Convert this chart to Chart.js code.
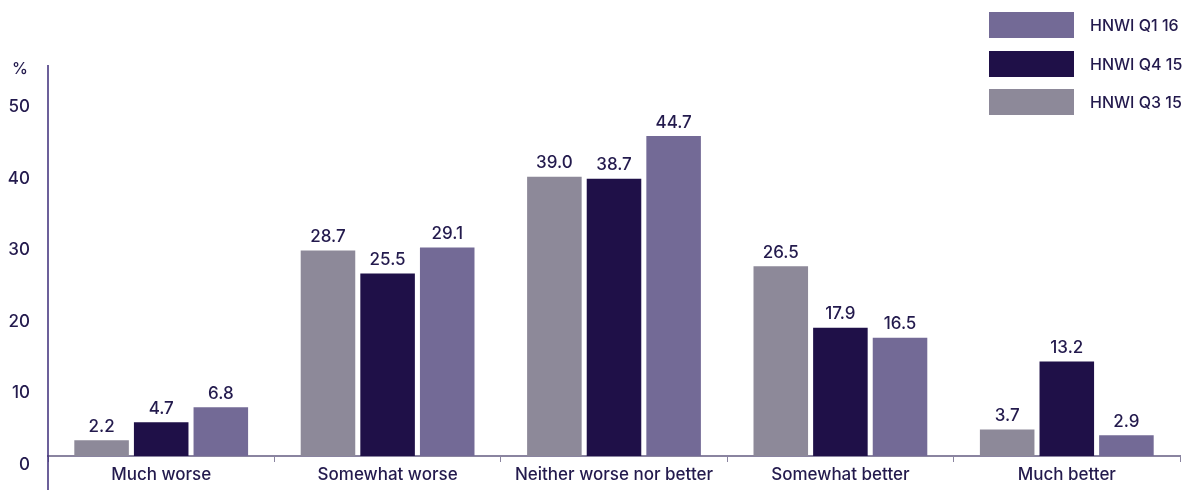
<!DOCTYPE html>
<html>
<head>
<meta charset="utf-8">
<script src="https://cdn.jsdelivr.net/npm/chart.js@4"></script>
<style>
  html, body { margin: 0; padding: 0; background: #fff; }
  #wrap { position: relative; width: 1192px; height: 490px; }
  #legend { position: absolute; top: 12px; left: 989px; font-family: Inter, sans-serif; font-size: 16px; font-weight: 500; color: #231a4d; }
  #legend div { display: flex; align-items: center; height: 26px; margin-bottom: 12.5px; }
  #legend span.box { display: inline-block; width: 85px; height: 26px; margin-right: 16px; }
</style>
</head>
<body>
<div id="wrap">
  <canvas id="grafica" width="1192" height="490"></canvas>
  <div id="legend"></div>
</div>
<script>
var categorias = ['Much worse', 'Somewhat worse', 'Neither worse nor better', 'Somewhat better', 'Much better'];
var q3_15 = [2.2, 28.7, 39.0, 26.5, 3.7];
var q4_15 = [4.7, 25.5, 38.7, 17.9, 13.2];
var q1_16 = [6.8, 29.1, 44.7, 16.5, 2.9];
var ticksY = [0, 10, 20, 30, 40, 50];

var textColor = '#231a4d';
var fuente = { family: 'Inter', size: 17, weight: 500 };

// value labels above each bar + the "%" unit and the long y axis line
var extras = {
    id: 'extras',
    afterDatasetsDraw: function(chart){
        var ctx = chart.ctx;
        ctx.save();
        ctx.fillStyle = textColor;
        ctx.font = '500 17px Inter';
        ctx.textAlign = 'center';
        ctx.textBaseline = 'bottom';
        chart.data.datasets.forEach(function(ds, i){
            chart.getDatasetMeta(i).data.forEach(function(bar, j){
                ctx.fillText(ds.data[j].toFixed(1), bar.x, bar.y - 5);
            });
        });
        var area = chart.chartArea;
        ctx.textAlign = 'center';
        ctx.textBaseline = 'middle';
        ctx.font = '500 16px Inter';
        ctx.fillText('%', area.left - 28, area.top + 4);
        ctx.strokeStyle = '#3b2b78';
        ctx.lineWidth = 1.5;
        ctx.beginPath();
        ctx.moveTo(area.left, area.top);
        ctx.lineTo(area.left, chart.height);
        ctx.stroke();
        ctx.restore();
    }
};

var grafica = document.getElementById('grafica');
var chart = new Chart(grafica, {
    type: 'bar',
    data: {
        labels: categorias,
        datasets: [
            { label: 'HNWI Q3 15', data: q3_15, backgroundColor: '#8d8999' },
            { label: 'HNWI Q4 15', data: q4_15, backgroundColor: '#1f1048' },
            { label: 'HNWI Q1 16', data: q1_16, backgroundColor: '#736a96' }
        ]
    },
    options: {
        responsive: false,
        animation: false,
        categoryPercentage: 0.79,
        barPercentage: 0.915,
        layout: { padding: { top: 65, right: 12, left: 0, bottom: 0 } },
        plugins: { legend: { display: false }, tooltip: { enabled: false } },
        scales: {
            x: {
                grid: { display: true, offset: true, drawOnChartArea: false, tickLength: 6, color: '#8a84a0', lineWidth: 1 },
                border: { display: true, color: '#8a84a0', width: 2 },
                ticks: { color: textColor, font: fuente, padding: 3 },
                afterFit: function(scale){ scale.height = 34; }
            },
            y: {
                min: 0,
                max: 54.6,
                grid: { display: false },
                border: { display: false },
                afterBuildTicks: function(scale){
                    scale.ticks = ticksY.map(function(v){ return { value: v }; });
                },
                ticks: { color: textColor, font: fuente, padding: 10, labelOffset: 9 },
                afterFit: function(scale){ scale.width = 48; }
            }
        }
    },
    plugins: [extras]
});

// legend listed newest first
var legend = document.getElementById('legend');
chart.data.datasets.slice().reverse().forEach(function(ds){
    var row = document.createElement('div');
    row.innerHTML = '<span class="box" style="background:' + ds.backgroundColor + '"></span>' + ds.label;
    legend.appendChild(row);
});
</script>
</body>
</html>
